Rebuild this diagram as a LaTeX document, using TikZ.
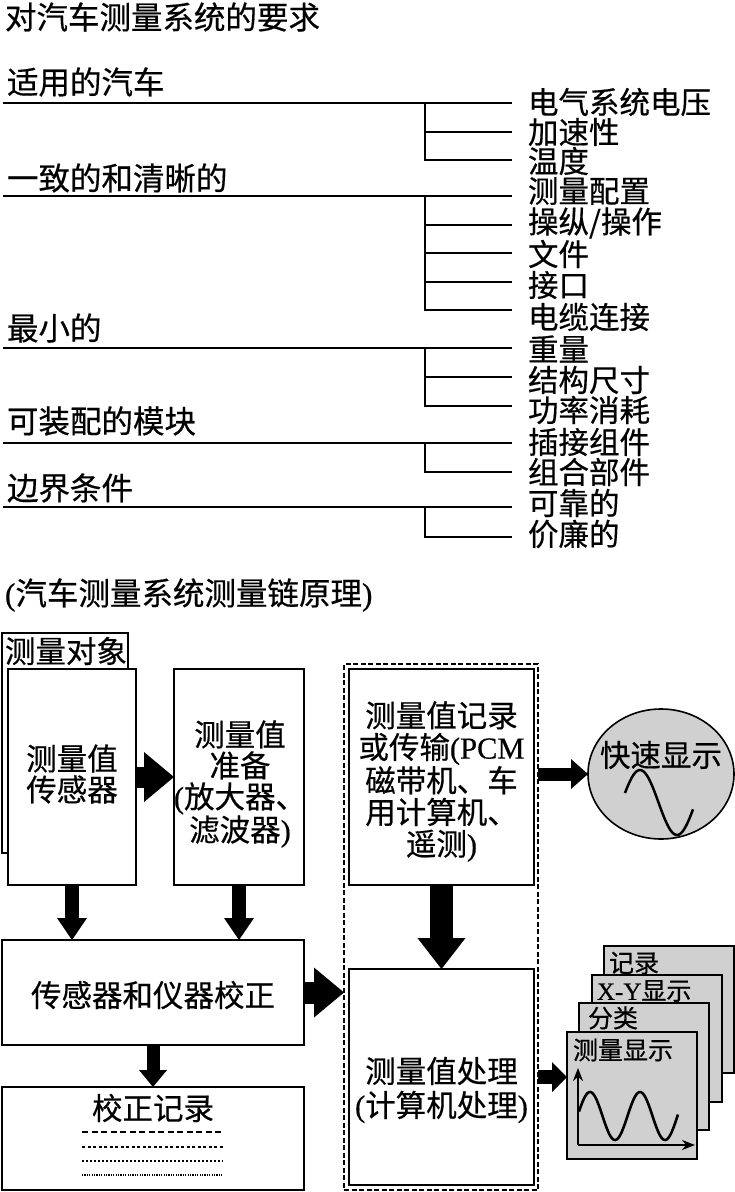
\documentclass[tikz,border=0pt]{standalone}
\usepackage{fontspec}
\setmainfont{Noto Sans CJK SC}[FakeBold=0.5]
\newfontfamily\latserif{Liberation Serif}[FakeBold=0.5]
\usetikzlibrary{arrows.meta,shapes.geometric}
\definecolor{panelgray}{RGB}{208,208,208}
\newcommand\lpar{{\latserif(}}
\newcommand\rpar{{\latserif)}}
\begin{document}
\begin{tikzpicture}[x=1pt,y=-1pt,
  every node/.style={inner sep=0pt,outer sep=0pt},
  big/.style={font=\fontsize{30.5}{31}\selectfont},
  head/.style={font=\fontsize{31.5}{32}\selectfont,anchor=west},
  lbl/.style={big,anchor=west},
  ctxt/.style={big,align=center},
  smalllbl/.style={font=\fontsize{25}{26}\selectfont,anchor=west},
  tree/.style={line width=1.8pt},
  box/.style={draw,line width=1.8pt,fill=white,anchor=north west},
  page/.style={draw,line width=1.6pt,fill=panelgray,anchor=north west,minimum width=130pt,minimum height=127pt},
  fat/.style n args={3}{line width=#1,-{Triangle[width=#2,length=#3,line width=0pt]}},
]
\useasboundingbox (0,0) rectangle (735,1192);

% ---------- upper part: requirements tree ----------
\node[head] (title) at (5,17) {对汽车测量系统的要求};
\node[head] (gA) at (7,82) {适用的汽车};
\node[head] (gB) at (7,178) {一致的和清晰的};
\node[head] (gC) at (7,328) {最小的};
\node[head] (gD) at (7,421) {可装配的模块};
\node[head] (gE) at (7,488) {边界条件};

\node[lbl] (r1) at (528,102) {电气系统电压};
\node[lbl] (r2) at (528,132) {加速性};
\node[lbl] (r3) at (528,161) {温度};
\node[lbl] (r4) at (528,191) {测量配置};
\node[lbl] (r5) at (528,223) {操纵/操作};
\node[lbl] (r6) at (528,254) {文件};
\node[lbl] (r7) at (528,285) {接口};
\node[lbl] (r8) at (528,317) {电缆连接};
\node[lbl] (r9) at (528,349) {重量};
\node[lbl] (r10) at (528,380) {结构尺寸};
\node[lbl] (r11) at (528,410) {功率消耗};
\node[lbl] (r12) at (528,442) {插接组件};
\node[lbl] (r13) at (528,472) {组合部件};
\node[lbl] (r14) at (528,503) {可靠的};
\node[lbl] (r15) at (528,534) {价廉的};

% group A
\draw[tree] (3,103) -- (512,103);
\draw[tree] (425,103) -- (425,160) -- (512,160);
\draw[tree] (425,132) -- (512,132);
% group B
\draw[tree] (3,196) -- (512,196);
\draw[tree] (425,196) -- (425,310) -- (512,310);
\foreach \yy in {225,253,282} \draw[tree] (425,\yy) -- (512,\yy);
% group C
\draw[tree] (3,348) -- (512,348);
\draw[tree] (425,348) -- (425,406) -- (512,406);
\draw[tree] (425,377) -- (512,377);
% group D
\draw[tree] (3,443) -- (512,443);
\draw[tree] (425,443) -- (425,472) -- (512,472);
% group E
\draw[tree] (3,507) -- (512,507);
\draw[tree] (425,507) -- (425,537) -- (512,537);

% ---------- lower part: measurement chain ----------
\node[head] (title2) at (5,595) {\lpar 汽车测量系统测量链原理\rpar};

\node[box,minimum width=126pt,minimum height=220pt] (obj) at (2,633) {};
\node[lbl] (objT) at (5,651) {测量对象};

\node[box,minimum width=128pt,minimum height=216pt] (sensor) at (8,669) {};
\node[ctxt] (sensorT) at (72,774) {测量值\\传感器};

\node[box,minimum width=130pt,minimum height=216pt] (prep) at (174,669) {};
\node[ctxt] (prepT) at (240,784) {测量值\\准备\\\lpar 放大器、\\滤波器\rpar};

\node[draw,line width=1.6pt,dash pattern=on 5pt off 2.5pt,anchor=north west,minimum width=194pt,minimum height=526pt] (outer) at (344,664) {};

\node[box,minimum width=185pt,minimum height=216pt] (rec) at (349,669) {};
\node[ctxt,font=\fontsize{30.5}{31.7}\selectfont] (recT) at (441.5,781.5) {测量值记录\\或传输{\latserif(PCM}\\磁带机、车\\用计算机、\\遥测\rpar};

\node[box,minimum width=185pt,minimum height=216pt] (proc) at (349,969) {};
\node[ctxt,font=\fontsize{30.5}{34}\selectfont] (procT) at (441.5,1090) {测量值处理\\\lpar 计算机处理\rpar};

\node[box,minimum width=302pt,minimum height=105pt] (calib) at (2,940) {};
\node[ctxt] (calibT) at (153,995) {传感器和仪器校正};

\node[box,minimum width=302pt,minimum height=103pt] (record) at (2,1087) {};
\node[ctxt] (recordT) at (153,1108) {校正记录};
\draw[line width=1.8pt,dash pattern=on 6pt off 3.5pt] (82,1132) -- (223,1132);
\draw[line width=1.8pt,dash pattern=on 3pt off 2.5pt] (82,1147) -- (223,1147);
\draw[line width=1.8pt,dash pattern=on 2pt off 2pt] (82,1161) -- (223,1161);
\draw[line width=1.8pt,dash pattern=on 1.2pt off 1.2pt] (82,1175) -- (223,1175);

% quick display
\node[draw,ellipse,line width=1.6pt,fill=panelgray,minimum width=146pt,minimum height=130pt] (quick) at (661,774) {};
\node[ctxt] (quickT) at (661,755) {快速显示};
\draw[line width=2.5pt] plot[domain=625:693,samples=60,smooth] (\x,{802.5-32.5*cos((\x-640)/74*360)});

% stacked display pages
\node[page] (p1) at (604,946) {};
\node[smalllbl] (p1T) at (609,963) {记录};
\node[page] (p2) at (592,975) {};
\node[smalllbl] (p2T) at (597,991) {{\latserif X-Y}显示};
\node[page] (p3) at (579,1003) {};
\node[smalllbl] (p3T) at (588,1018) {分类};
\node[page] (p4) at (567,1032) {};
\node[smalllbl] (p4T) at (573,1050) {测量显示};
\coordinate (ax0) at (578,1145);
\coordinate (axY) at (578,1068);
\coordinate (axX) at (695,1145);
\draw[line width=1.8pt,-{Stealth[length=13pt,width=10pt]}] (ax0) -- (axY);
\draw[line width=1.8pt,-{Stealth[length=13pt,width=10pt]}] (ax0) -- (axX);
\draw[line width=2.6pt] plot[domain=579:678,samples=80,smooth] (\x,{1116-24*cos((\x-590)/50*360)});

% arrows
\draw[fat={21pt}{50pt}{30pt}] (sensor.east) -- (prep.west);
\draw[fat={14pt}{30pt}{22pt}] (sensor.south) -- (sensor.south |- calib.north);
\draw[fat={14pt}{30pt}{22pt}] (prep.south) -- (prep.south |- calib.north);
\draw[fat={13pt}{28pt}{17pt}] (calib.south) -- (calib.south |- record.north);
\draw[fat={22pt}{50pt}{30pt}] (calib.east) -- (outer.west |- calib.east);
\draw[fat={23pt}{48pt}{31pt}] (rec.south) -- (proc.north);
\draw[fat={13pt}{30pt}{17pt}] (outer.east |- quick.west) -- (quick.west);
\draw[fat={14pt}{30pt}{15pt}] (outer.east |- proc.east) -- (proc.east -| p4.west);
\end{tikzpicture}
\end{document}
